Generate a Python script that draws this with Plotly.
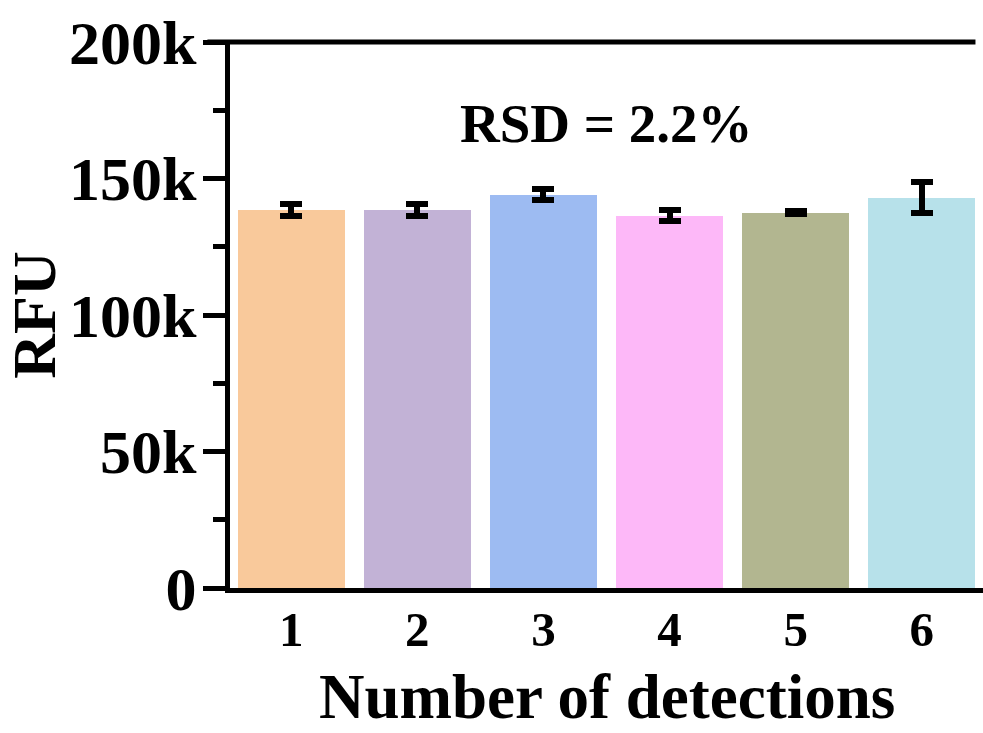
import plotly.graph_objects as go

# Repeated detections: mean RFU and standard deviation for each run
detections = ["1", "2", "3", "4", "5", "6"]
rfu_mean = [138500, 138500, 144000, 136300, 137500, 143000]
rfu_sd = [2200, 2200, 2000, 2000, 500, 5800]
bar_colors = ["#F9C99B", "#C2B2D6", "#9DBBF2", "#FDB8F8", "#B2B690", "#B7E1EA"]

y_ticks = [0, 50000, 100000, 150000, 200000]
y_tick_text = ["0", "50k", "100k", "150k", "200k"]

FONT = "Liberation Serif, Times New Roman, serif"


def bold_font(size):
    return dict(family=FONT, size=size, color="black", weight="bold")


fig = go.Figure()
fig.add_trace(go.Bar(
    x=list(range(1, len(detections) + 1)),
    y=rfu_mean,
    width=0.85,
    marker=dict(color=bar_colors, line=dict(width=0)),
    error_y=dict(type="data", array=rfu_sd, visible=True,
                 color="black", thickness=6, width=11),
    showlegend=False,
))

# horizontal frame line at the top of the value axis
fig.add_shape(type="line", xref="paper", yref="paper",
              x0=-0.03, x1=0.99, y0=1, y1=1,
              line=dict(color="black", width=5))

fig.add_annotation(x=0.5, xref="paper", y=170000, yref="y",
                   text="RSD = 2.2%", showarrow=False,
                   font=bold_font(55))

# category-axis title placed below the tick labels
fig.add_annotation(x=0.5, xref="paper", y=-0.1996, yref="paper",
                   yanchor="middle", text="Number of detections",
                   showarrow=False, font=bold_font(63))

fig.update_layout(
    width=983, height=733,
    margin=dict(l=230, r=0, t=42, b=145),
    paper_bgcolor="white", plot_bgcolor="white",
    font=dict(family=FONT, color="black"),
    bargap=0,
)
fig.update_xaxes(
    range=[0.514, 6.486],
    tickvals=list(range(1, len(detections) + 1)),
    ticktext=detections,
    tickfont=bold_font(49),
    ticks="", ticklabelstandoff=-6,
    showline=True, linecolor="black", linewidth=5,
    showgrid=False, zeroline=False, automargin=False,
)
fig.update_yaxes(
    range=[0, 200000],
    tickvals=y_ticks,
    ticktext=y_tick_text,
    tickfont=bold_font(62),
    ticks="outside", ticklen=22, tickwidth=5, tickcolor="black",
    ticklabelstandoff=-6,
    minor=dict(tickvals=[25000, 75000, 125000, 175000], ticks="outside",
               ticklen=12, tickwidth=5, tickcolor="black"),
    showline=True, linecolor="black", linewidth=5,
    showgrid=False, zeroline=False, automargin=False,
    title=dict(text="RFU", font=bold_font(62), standoff=2),
)

fig.write_html("out.html")
